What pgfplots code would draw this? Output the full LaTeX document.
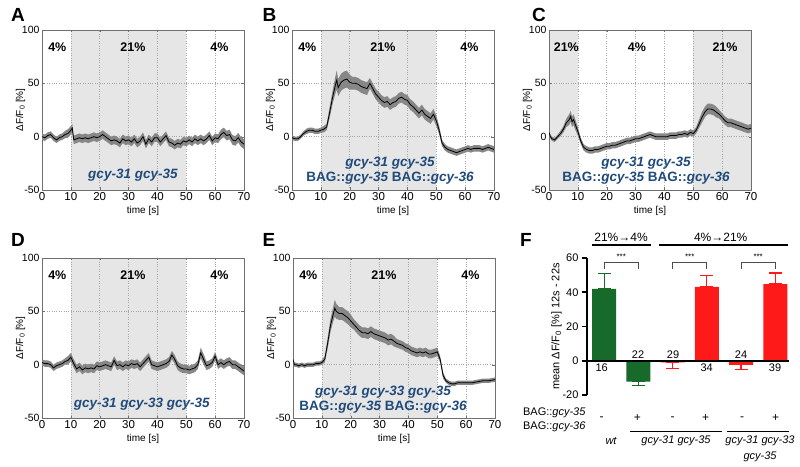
\documentclass[border=0pt]{standalone}
\usepackage{pgfplots}
\pgfplotsset{compat=1.18}
\usepackage{pgfplotstable}
\usepgfplotslibrary{fillbetween}
\usepackage{fontspec}
\setmainfont{Liberation Sans}
\setsansfont{Liberation Sans}

\definecolor{shade}{HTML}{E6E6E6}
\definecolor{bandgray}{HTML}{878787}
\definecolor{geneblue}{HTML}{1F4A7A}
\definecolor{barGreen}{HTML}{186A2A}
\definecolor{barRed}{HTML}{FF1A1A}
\definecolor{frameGray}{HTML}{707070}

% time [s], mean dF/F0 [%], SEM
\pgfplotstableread{
t m s
0 0 3
1 -1 3
2 1 3
3 2 3
4 -1 3
5 -3 3
6 -1 3
7 0 3
8 2 3.5
9 3 4
10 6 4
10.5 8 4
11 -3 4
12 -2 4
13 -1 4
14 -2 4
15 -1 4
16 -2 4
17 -1 4
18 0 4
19 -1 4
20 0 4
21 2 4
22 0 4
23 -2 4
24 -4 4
25 -3 4
26 -4 4
27 -6 4
28 -2 4
29 -4 4
30 -3 4
31 -5 4
32 -2 4
33 -6 4
34 -4 4
35 0 4
36 -7 4
37 -2 4
38 -5 4
39 -1 4
40 -1 4
41 -5 4
42 -2 4
43 1 4
44 -5 4
45 -6 4
46 -8 4
47 -6 4
48 -7 4
49 -4 4
50 -5 4
51 -3 4
52 -5 4
53 -2 4
54 -4 4
55 -2 4
56 -4 4
57 -2 4
58 1 4
59 -4 4
60 -1 4
61 -2 4
62 2 4.5
63 4 4.5
64 1 4.5
65 2 4.5
66 -3 4.5
67 -4 4.5
68 -1 4.5
69 -5 4.5
70 -7 4.5
}\tabA

\pgfplotstableread{
t m s
0 -1 2
1 -2 2
2 -2 2
3 0 2
4 3 2
5 5 2.5
6 6 2.5
7 6 2.5
8 5 2.5
9 5 2.5
10 6 2.5
11 7 3
12 9 3
13 22 5
14 36 6
15 48 8
15.5 53 9
16 46 8
17 51 8
18 53 8
19 54 8
20 51 7
21 50 6
22 50 6
23 49 6
24 47 6
25 46 6
26 45 6
27 50 5
28 45 5
29 40 5
30 37 5
31 34 5
32 32 5
33 33 5
34 30 5
35 32 5
36 33 5
37 36 5
38 37 5
39 35 5
40 34 5
41 30 5
42 28 5
43 25 5
44 22 5
45 25 5
46 21 5
47 19 5
48 17 5
49 21 5
50 15 5
51 6 4
52 -6 3
53 -10 3
54 -12 3
55 -13 3
56 -14 3
57 -15 3
58 -14 3
59 -13 3
60 -12 3
61 -11 3
62 -12 3
63 -11 3
64 -11 3
65 -11 3
66 -12 3
67 -11 3
68 -10 3
69 -11 3
70 -12 3
}\tabB

\pgfplotstableread{
t m s
0 4 2
0.5 0 2
1 -2 2
2 -3 2
3 0 2
4 3 2.5
5 7 3
6 13 4
7 16 5
7.5 19 5
8 14 5
8.5 16 5
9 12 5
10 5 4
11 -4 3
12 -10 3
13 -12 3
14 -13 3
15 -13 3
16 -12 3
17 -12 3
18 -11 3
19 -10 3
20 -9 3
21 -9 3
22 -8 3
23 -8 3
24 -7 3
25 -6 3
26 -5 3
27 -4 3
28 -4 3
29 -3 3
30 -2 3
31 -2 3
32 -1 3
33 0 3
34 1 3
35 2 3
36 1 3
37 0 3
38 0 3
39 0 3
40 0 3
41 0 3
42 1 3
43 1 3
44 1 3
45 2 3
46 2 3
47 3 3
48 2 3
49 4 3
50 3 3
51 6 3
52 12 4
53 18 5
54 23 5
55 26 5
56 26 5
57 25 5
58 23 5
59 21 4
60 18 4
61 15 4
62 13 4
63 13 4
64 12 4
65 11 4
66 10 4
67 9 4
68 8 4
69 7 4
70 8 4
}\tabC

\pgfplotstableread{
t m s
0 2 3
1 1 3
2 1 3
3 0 3
4 -3 3
5 -1 3
6 0 3
7 1 3
8 3 3
9 4 4
10 7 4
11 1 4
12 -4 4
13 -2 4
14 -5 4
15 -3 4
16 -4 4
17 -3 4
18 -4 4
19 -1 4
20 -2 4
21 -1 4
22 0 4
23 -1 4
24 -2 4
25 4 4
26 -1 4
27 0 4
28 -2 4
29 0 4
30 -1 4
31 1 4
32 0 4
33 1 4
34 -2 4
35 1 4
36 4 4
37 7 4
38 0 4
39 -1 4
40 -2 4
41 -1 4
42 0 4
43 1 4
44 3 4
45 9 4
46 5 4
47 -1 4
48 -3 4
49 -4 4
50 -4 4
51 -5 4
52 -4 4
53 -3 4
54 0 4
55 11 5
56 5 5
57 -1 4
58 0 4
59 2 4
60 8 4
61 0 4
62 2 4
63 0 4
64 2 4
65 3 4
66 0 4
67 0 4
68 -2 4
69 -4 4
70 -6 4
}\tabD

\pgfplotstableread{
t m s
0 5 2
0.5 0 2
1 0 2
2 -1 2
3 0 2
4 -1 2
5 0 2
6 0 2
7 0 2
8 1 2
9 1 2
10 2 2
11 5 3
12 20 5
13 37 6
14 48 7
14.5 53 8
15 50 7
16 48 6
17 48 6
18 46 6
19 44 6
20 41 6
21 38 5
22 35 5
23 32 5
24 30 5
25 30 5
26 29 5
27 31 5
28 29 5
29 28 5
30 27 5
31 26 5
32 25 5
33 23 5
34 24 5
35 22 5
36 20 4
37 19 4
38 18 4
39 16 4
40 15 4
41 13 4
42 12 4
43 11 4
44 12 4
45 11 4
46 12 4
47 10 4
48 10 4
49 11 4
50 12 4
51 5 3
52 -10 3
53 -15 2
54 -17 2
55 -18 2
56 -18 2
57 -17 2
58 -17 2
59 -17 2
60 -17 2
62 -17 2
64 -16 2
66 -15 2
68 -15 2
70 -14 2
}\tabE

\pgfplotsset{
  trace/.style={
    scale only axis, width=202pt, height=160pt,
    xmin=0, xmax=70, ymin=-50, ymax=100,
    xtick={0,10,...,70}, ytick={-50,0,50,100},
    grid=major, major grid style={dotted, gray!70, line width=0.6pt},
    tick align=inside, major tick length=2.5pt,
    axis line style={frameGray}, tick style={frameGray},
    yticklabel style={font=\fontsize{10.5}{12}\selectfont, xshift=1pt},
    xticklabel style={font=\fontsize{11.5}{13}\selectfont, yshift=1pt},
    /pgf/number format/assume math mode=true,
    xlabel={time [s]}, ylabel={ΔF/F\textsubscript{0} [\%]},
    label style={font=\fontsize{10}{12}\selectfont},
    xlabel style={yshift=1.5pt}, ylabel style={yshift=-10pt},
    set layers,
  },
  shaded/.style={fill=shade, draw=none, on layer=axis background},
}
\tikzset{
  pct/.style={font=\fontsize{12.5}{14}\selectfont\bfseries},
  gene/.style={font=\fontsize{13.5}{15}\selectfont\bfseries, color=geneblue, align=center},
}

\newcommand{\trace}[2]{%
  \addplot[draw=none, name path=u#2] table[x=t, y expr=\thisrow{m}+\thisrow{s}] {#1};
  \addplot[draw=none, name path=l#2] table[x=t, y expr=\thisrow{m}-\thisrow{s}] {#1};
  \addplot[bandgray, draw=none] fill between[of=u#2 and l#2];
  \addplot[black, line width=0.8pt] table[x=t, y=m] {#1};
}

\begin{document}
\begin{tikzpicture}
\path (0,0) rectangle (800pt,466pt);

% A
\begin{axis}[trace, at={(42pt,276pt)}, anchor=south west]
  \addplot[shaded] coordinates {(10,-50) (10,100) (50,100) (50,-50)};
  \trace{\tabA}{A}
  \node[pct] at (axis cs:5.3,84) {4\%};
  \node[pct] at (axis cs:31.5,84) {21\%};
  \node[pct] at (axis cs:61.5,84) {4\%};
  \node[gene] at (axis cs:31.5,-36) {\itshape gcy-31 gcy-35};
\end{axis}

% B
\begin{axis}[trace, at={(292pt,276pt)}, anchor=south west]
  \addplot[shaded] coordinates {(10,-50) (10,100) (50,100) (50,-50)};
  \trace{\tabB}{B}
  \node[pct] at (axis cs:5.3,84) {4\%};
  \node[pct] at (axis cs:31.5,84) {21\%};
  \node[pct] at (axis cs:61.5,84) {4\%};
  \node[gene] at (axis cs:34,-32) {\itshape gcy-31 gcy-35\\BAG::\itshape gcy-35 \upshape BAG::\itshape gcy-36};
\end{axis}

% C
\begin{axis}[trace, at={(549pt,276pt)}, anchor=south west]
  \addplot[shaded] coordinates {(0,-50) (0,100) (10,100) (10,-50)};
  \addplot[shaded] coordinates {(50,-50) (50,100) (70,100) (70,-50)};
  \trace{\tabC}{C}
  \node[pct] at (axis cs:6,84) {21\%};
  \node[pct] at (axis cs:30.5,84) {4\%};
  \node[pct] at (axis cs:61,84) {21\%};
  \node[gene] at (axis cs:33.6,-32) {\itshape gcy-31 gcy-35\\BAG::\itshape gcy-35 \upshape BAG::\itshape gcy-36};
\end{axis}

% D
\begin{axis}[trace, at={(42pt,48pt)}, anchor=south west]
  \addplot[shaded] coordinates {(10,-50) (10,100) (50,100) (50,-50)};
  \trace{\tabD}{D}
  \node[pct] at (axis cs:5.3,84) {4\%};
  \node[pct] at (axis cs:31.5,84) {21\%};
  \node[pct] at (axis cs:61.5,84) {4\%};
  \node[gene] at (axis cs:34.6,-37) {\itshape gcy-31 gcy-33 gcy-35};
\end{axis}

% E
\begin{axis}[trace, at={(293pt,48pt)}, anchor=south west]
  \addplot[shaded] coordinates {(10,-50) (10,100) (50,100) (50,-50)};
  \trace{\tabE}{E}
  \node[pct] at (axis cs:5.3,84) {4\%};
  \node[pct] at (axis cs:31.5,84) {21\%};
  \node[pct] at (axis cs:61.5,84) {4\%};
  \node[gene] at (axis cs:31.2,-32.5) {\itshape gcy-31 gcy-33 gcy-35\\BAG::\itshape gcy-35 \upshape BAG::\itshape gcy-36};
\end{axis}

% F
\begin{axis}[at={(587pt,71pt)}, anchor=south west, scale only axis,
  width=202pt, height=137pt, xmin=0.5, xmax=6.4, ymin=-20, ymax=60,
  ytick={-20,0,...,60}, xtick=\empty,
  axis x line=bottom, axis y line=left,
  x axis line style={draw=none},
  y axis line style={-, line width=1.6pt, black},
  tick align=outside, major tick length=5pt,
  ytick style={line width=1.6pt, black},
  tick label style={font=\fontsize{11}{13}\selectfont},
  /pgf/number format/assume math mode=true,
  ylabel={mean ΔF/F\textsubscript{0} [\%] 12s - 22s},
  ylabel style={font=\fontsize{11}{13}\selectfont, yshift=-6pt},
  clip=false]
  \addplot[ybar, bar width=0.7, bar shift=0pt, fill=barGreen, draw=none,
    error bars/.cd, y dir=both, y explicit,
    error bar style={line width=1.2pt, barGreen},
    error mark options={rotate=90, barGreen, line width=1.2pt, mark size=6.5pt}]
    coordinates {(1,42) += (0,8.8) -= (0,0)  (2,-12.2) += (0,0) -= (0,2.2)};
  \addplot[ybar, bar width=0.7, bar shift=0pt, fill=barRed, draw=none,
    error bars/.cd, y dir=both, y explicit,
    error bar style={line width=1.2pt, barRed},
    error mark options={rotate=90, barRed, line width=1.2pt, mark size=6.5pt}]
    coordinates {(3,-1) += (0,0) -= (0,3.3)  (4,43.2) += (0,6.8) -= (0,0)
                 (5,-2.4) += (0,0) -= (0,2.5)  (6,44.8) += (0,6.4) -= (0,0)};
  \draw[line width=1.6pt] (axis cs:0.5,0) -- (axis cs:6.4,0);
  % significance brackets
  \draw[line width=0.8pt, gray!60!black] (axis cs:1,53.5) |- (axis cs:2,57.3) -- (axis cs:2,53.5);
  \draw[line width=0.8pt, gray!60!black] (axis cs:3,53.5) |- (axis cs:4,57.3) -- (axis cs:4,53.5);
  \draw[line width=0.8pt, gray!60!black] (axis cs:5,53.5) |- (axis cs:6,57.3) -- (axis cs:6,53.5);
  \node[font=\fontsize{8}{9}\selectfont] at (axis cs:1.5,60.5) {***};
  \node[font=\fontsize{8}{9}\selectfont] at (axis cs:3.5,60.5) {***};
  \node[font=\fontsize{8}{9}\selectfont] at (axis cs:5.5,60.5) {***};
\end{axis}

% annotations in pixel coordinates (y downwards)
\begin{scope}[x=1pt, y=-1pt, shift={(0pt,466pt)}]
  \foreach \l/\x/\y in {A/18/14.5, B/269.5/14.5, C/539/14.5, D/18/240, E/269/240, F/526/240}
    \node[font=\fontsize{19}{22}\selectfont\bfseries] at (\x,\y) {\l};
  % F: n numbers
  \foreach \n/\x/\y in {16/601.7/368, 22/638/354.5, 29/673/354.5, 34/706.7/368, 24/741/354.5, 39/775/368}
    \node[font=\fontsize{11}{13}\selectfont] at (\x,\y) {\n};
  % F: headers
  \node[font=\fontsize{12}{14}\selectfont] at (621,237) {21\%→4\%};
  \draw[line width=1.4pt] (591.7,245) -- (650.7,245);
  \node[font=\fontsize{12}{14}\selectfont] at (720.7,237) {4\%→21\%};
  \draw[line width=1.4pt] (659,245) -- (788,245);
  % F: genotype table
  \node[font=\fontsize{11}{13}\selectfont, anchor=east] at (589,413) {BAG::\textit{gcy-35}};
  \node[font=\fontsize{11}{13}\selectfont, anchor=east] at (589,427) {BAG::\textit{gcy-36}};
  \foreach \s/\x in {-/601.7, +/637.3, -/672.7, +/705.7, -/742, +/775.7}
    \node[font=\fontsize{12}{14}\selectfont] at (\x,418.3) {\s};
  \draw[line width=0.7pt] (630,431) -- (721.7,431);
  \draw[line width=0.7pt] (726.7,431) -- (789.3,431);
  \node[font=\fontsize{11}{13}\selectfont\itshape] at (611,440.7) {wt};
  \node[font=\fontsize{11}{13}\selectfont\itshape] at (676,440.7) {gcy-31 gcy-35};
  \node[font=\fontsize{11}{13}\selectfont\itshape] at (760,440.7) {gcy-31 gcy-33};
  \node[font=\fontsize{11}{13}\selectfont\itshape] at (760,456.7) {gcy-35};
\end{scope}
\end{tikzpicture}
\end{document}
